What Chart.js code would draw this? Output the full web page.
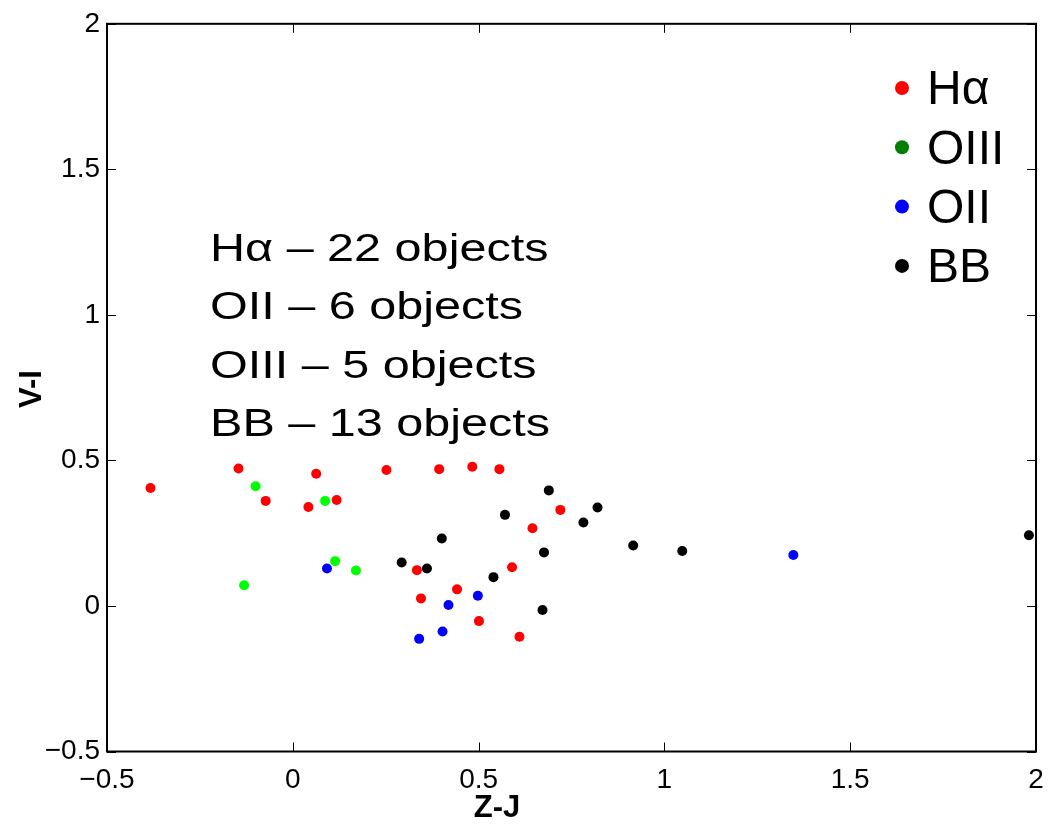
<!DOCTYPE html>
<html>
<head>
<meta charset="utf-8">
<script src="https://cdn.jsdelivr.net/npm/chart.js@4"></script>
<style>
  html, body { margin: 0; padding: 0; background: #fff; }
  #wrap { width: 1064px; height: 826px; position: relative; }
</style>
</head>
<body>
<div id="wrap"><canvas id="chart"></canvas></div>
<script>
// colour indices
const haX = [-0.383, -0.146, -0.073, 0.063, 0.042, 0.118, 0.252, 0.394, 0.483, 0.556, 0.720, 0.645, 0.334, 0.590, 0.442, 0.345, 0.501, 0.610];
const haY = [0.405, 0.472, 0.361, 0.454, 0.340, 0.364, 0.467, 0.470, 0.478, 0.470, 0.330, 0.267, 0.123, 0.133, 0.057, 0.026, -0.052, -0.106];

const oiiiX = [-0.100, 0.087, 0.114, 0.170, -0.131];
const oiiiY = [0.411, 0.361, 0.154, 0.122, 0.071];

const oiiX = [0.092, 0.498, 0.419, 0.403, 0.340, 1.347];
const oiiY = [0.129, 0.035, 0.003, -0.088, -0.113, 0.175];

const bbX = [0.293, 0.689, 0.820, 0.571, 0.782, 0.401, 0.916, 0.676, 0.361, 0.540, 0.672, 1.048, 1.981];
const bbY = [0.149, 0.397, 0.338, 0.313, 0.287, 0.232, 0.208, 0.184, 0.129, 0.099, -0.014, 0.189, 0.243];

const legendLabels = ['H\u03b1', 'OIII', 'OII', 'BB'];
const legendColors = ['#ff0000', '#008000', '#0000ff', '#000000'];
const noteLines = ['H\u03b1 \u2013 22 objects', 'OII \u2013 6 objects', 'OIII \u2013 5 objects', 'BB \u2013 13 objects'];

const xLabel = 'Z-J';
const yLabel = 'V-I';

const FONT = "'Liberation Sans', Arial, Helvetica, sans-serif";

function toPoints(xs, ys) {
    return xs.map((x, i) => ({ x: x, y: ys[i] }));
}

function fmtTick(v) {
    return String(v).replace('-', '\u2212');
}

// frame, inward ticks on all four sides, legend, note text and axis titles
const matlabLook = {
    id: 'matlabLook',
    afterDraw(chart) {
        const ctx = chart.ctx;
        const a = chart.chartArea;
        const xs = chart.scales.x;
        const ys = chart.scales.y;
        ctx.save();

        ctx.strokeStyle = '#000';
        ctx.lineWidth = 1;
        const tl = 9;
        xs.ticks.forEach(t => {
            const px = Math.round(xs.getPixelForValue(t.value)) + 0.5;
            ctx.beginPath();
            ctx.moveTo(px, a.bottom); ctx.lineTo(px, a.bottom - tl);
            ctx.moveTo(px, a.top); ctx.lineTo(px, a.top + tl);
            ctx.stroke();
        });
        ys.ticks.forEach(t => {
            const py = Math.round(ys.getPixelForValue(t.value)) + 0.5;
            ctx.beginPath();
            ctx.moveTo(a.left, py); ctx.lineTo(a.left + tl, py);
            ctx.moveTo(a.right, py); ctx.lineTo(a.right - tl, py);
            ctx.stroke();
        });

        ctx.lineWidth = 2;
        ctx.strokeRect(a.left, a.top, a.right - a.left, a.bottom - a.top);

        // legend
        ctx.textBaseline = 'middle';
        ctx.textAlign = 'left';
        ctx.font = '48px ' + FONT;
        legendLabels.forEach((lab, i) => {
            const cy = 88 + i * 59.3;
            ctx.fillStyle = legendColors[i];
            ctx.beginPath();
            ctx.arc(902, cy, 7, 0, Math.PI * 2);
            ctx.fill();
            ctx.fillStyle = '#000';
            ctx.fillText(lab, 927, cy + 3);
        });

        // note text (wide face in the original, so stretch horizontally)
        ctx.textBaseline = 'alphabetic';
        ctx.font = '39px ' + FONT;
        ctx.save();
        ctx.translate(210, 0);
        ctx.scale(1.245, 1);
        noteLines.forEach((line, i) => {
            ctx.fillText(line, 0, 261 + i * 58.3);
        });
        ctx.restore();

        // axis titles
        ctx.font = 'bold 31px ' + FONT;
        ctx.textAlign = 'center';
        ctx.textBaseline = 'middle';
        ctx.fillText(xLabel, 497, 808);
        ctx.translate(32, 389);
        ctx.rotate(-Math.PI / 2);
        ctx.fillText(yLabel, 0, 0);

        ctx.restore();
    }
};

const dotStyle = { pointRadius: 5, pointHoverRadius: 5, borderWidth: 0, showLine: false };

new Chart(document.getElementById('chart'), {
    type: 'scatter',
    data: {
        datasets: [
            Object.assign({ label: 'H\u03b1', data: toPoints(haX, haY), backgroundColor: '#ff0000', borderColor: '#ff0000' }, dotStyle),
            Object.assign({ label: 'OIII', data: toPoints(oiiiX, oiiiY), backgroundColor: '#00ff00', borderColor: '#00ff00' }, dotStyle),
            Object.assign({ label: 'OII', data: toPoints(oiiX, oiiY), backgroundColor: '#0000ff', borderColor: '#0000ff' }, dotStyle),
            Object.assign({ label: 'BB', data: toPoints(bbX, bbY), backgroundColor: '#000000', borderColor: '#000000' }, dotStyle)
        ]
    },
    options: {
        responsive: true,
        maintainAspectRatio: false,
        animation: false,
        layout: { padding: { left: 0, top: 19, right: 28, bottom: 0 } },
        plugins: {
            legend: { display: false },
            tooltip: { enabled: false }
        },
        scales: {
            x: {
                type: 'linear',
                min: -0.5,
                max: 2,
                grid: { display: false, drawTicks: false },
                border: { display: false },
                ticks: {
                    stepSize: 0.5,
                    padding: 12,
                    color: '#000',
                    font: { family: FONT, size: 28 },
                    maxRotation: 0,
                    callback: v => fmtTick(v)
                },
                afterFit: s => { s.height = 74.5; }
            },
            y: {
                type: 'linear',
                min: -0.5,
                max: 2,
                grid: { display: false, drawTicks: false },
                border: { display: false },
                ticks: {
                    stepSize: 0.5,
                    padding: 7,
                    color: '#000',
                    font: { family: FONT, size: 28 },
                    callback: v => fmtTick(v)
                },
                afterFit: s => { s.width = 107; }
            }
        }
    },
    plugins: [matlabLook]
});
</script>
</body>
</html>
